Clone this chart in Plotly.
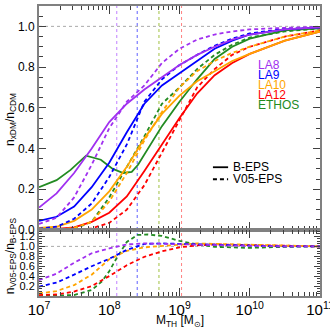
import numpy as np
import plotly.graph_objects as go
from plotly.subplots import make_subplots

# log10 of the threshold mass grid
LOGM = [7.0, 7.25, 7.5, 7.75, 8.0, 8.25, 8.5, 8.75, 9.0, 9.25, 9.5, 9.75, 10.0, 10.5, 11.0]
LOGM_RATIO = [7.0, 7.25, 7.5, 7.75, 8.0, 8.25, 8.5, 8.75, 9.0, 9.25, 9.5, 10.0, 10.5, 11.0]

MODELS = ["LA8", "LA9", "LA10", "LA12", "ETHOS"]
COLORS = {"LA8": "#a030f0", "LA9": "#0000ff", "LA10": "#ffa500", "LA12": "#ff0000", "ETHOS": "#228b22"}

# n_xDM / n_CDM, B-EPS (solid)
B_EPS = {
    "LA8":   [0.11, 0.18, 0.28, 0.40, 0.53, 0.62, 0.69, 0.75, 0.81, 0.86, 0.90, 0.935, 0.96, 0.985, 0.995],
    "LA9":   [0.045, 0.065, 0.115, 0.21, 0.33, 0.48, 0.62, 0.71, 0.77, 0.83, 0.89, 0.93, 0.96, 0.985, 0.995],
    "LA10":  [0.01, 0.016, 0.045, 0.10, 0.19, 0.31, 0.45, 0.57, 0.66, 0.73, 0.78, 0.83, 0.865, 0.93, 0.975],
    "LA12":  [0.002, 0.005, 0.013, 0.04, 0.085, 0.165, 0.29, 0.42, 0.55, 0.67, 0.76, 0.82, 0.865, 0.93, 0.975],
}
# ETHOS has a bump, sampled more finely
LOGM_ETHOS = [7.0, 7.25, 7.45, 7.67, 7.88, 8.05, 8.2, 8.32, 8.41, 8.5, 8.6, 8.75, 9.0, 9.25, 9.5, 9.75, 10.0, 10.5, 11.0]
ETHOS_B = [0.21, 0.245, 0.295, 0.365, 0.345, 0.30, 0.28, 0.285, 0.32, 0.37, 0.43, 0.51, 0.63, 0.74, 0.84, 0.90, 0.94, 0.98, 0.99]

# n_xDM / n_CDM, V05-EPS (dashed)
V05_EPS = {
    "LA8":   [0.03, 0.06, 0.16, 0.32, 0.50, 0.63, 0.71, 0.82, 0.89, 0.935, 0.96, 0.975, 0.985, 0.993, 0.997],
    "LA9":   [0.007, 0.016, 0.055, 0.13, 0.26, 0.42, 0.63, 0.74, 0.81, 0.86, 0.905, 0.94, 0.965, 0.988, 0.996],
    "LA10":  [0.0005, 0.002, 0.01, 0.04, 0.14, 0.28, 0.44, 0.58, 0.70, 0.78, 0.83, 0.87, 0.90, 0.95, 0.98],
    "LA12":  [0.0, 0.0002, 0.001, 0.008, 0.035, 0.10, 0.22, 0.38, 0.54, 0.70, 0.79, 0.86, 0.90, 0.95, 0.98],
    "ETHOS": [0.0, 0.001, 0.006, 0.04, 0.16, 0.31, 0.46, 0.62, 0.70, 0.79, 0.86, 0.91, 0.945, 0.975, 0.99],
}

# n_V05-EPS / n_B-EPS
RATIO = {
    "LA8":   [0.32, 0.45, 0.67, 0.86, 0.96, 1.04, 1.06, 1.05, 1.04, 1.03, 1.02, 1.01, 1.0, 1.0],
    "LA9":   [0.19, 0.27, 0.43, 0.60, 0.75, 0.93, 1.05, 1.06, 1.05, 1.04, 1.03, 1.01, 1.0, 1.0],
    "LA10":  [0.05, 0.10, 0.22, 0.43, 0.74, 0.91, 0.98, 1.01, 1.04, 1.06, 1.05, 1.03, 1.01, 1.0],
    "LA12":  [0.02, 0.03, 0.09, 0.20, 0.40, 0.62, 0.79, 0.90, 0.98, 1.02, 1.04, 1.03, 1.01, 1.0],
}
LOGM_RATIO_ETHOS = [7.0, 7.25, 7.5, 7.75, 7.9, 8.0, 8.1, 8.25, 8.4, 8.55, 8.75, 9.0, 9.25, 9.5, 10.0, 10.5, 11.0]
ETHOS_RATIO = [0.0, 0.005, 0.02, 0.12, 0.30, 0.50, 0.75, 1.09, 1.23, 1.24, 1.21, 1.11, 1.04, 0.99, 0.97, 0.99, 1.0]

# half-mode masses (dotted verticals)
M_HM = {"LA8": 1.28e8, "LA9": 2.5e8, "ETHOS": 5.1e8, "LA12": 1.07e9}
VLINE_COLORS = {"LA8": "#c080ff", "LA9": "#6060ff", "ETHOS": "#a0c040", "LA12": "#ff8080"}

FONT = "Liberation Sans, Arial, sans-serif"
DASH = "4px,3px"


def mass(logs):
    return 10 ** np.array(logs)


fig = make_subplots(rows=2, cols=1, shared_xaxes=True, vertical_spacing=0,
                    row_heights=[0.7724, 0.2276])

for m in ["ETHOS", "LA12", "LA10", "LA9", "LA8"]:
    c = COLORS[m]
    if m == "ETHOS":
        xb, yb, xr, yr = LOGM_ETHOS, ETHOS_B, LOGM_RATIO_ETHOS, ETHOS_RATIO
    else:
        xb, yb, xr, yr = LOGM, B_EPS[m], LOGM_RATIO, RATIO[m]
    fig.add_trace(go.Scatter(x=mass(xb), y=yb, mode="lines",
                             line=dict(color=c, width=1.8)), row=1, col=1)
    fig.add_trace(go.Scatter(x=mass(LOGM), y=V05_EPS[m], mode="lines",
                             line=dict(color=c, width=1.8, dash=DASH)), row=1, col=1)
    fig.add_trace(go.Scatter(x=mass(xr), y=yr, mode="lines",
                             line=dict(color=c, width=1.8, dash=DASH)), row=2, col=1)

# dotted reference lines
for m, v in M_HM.items():
    fig.add_shape(type="line", xref="x", yref="paper", x0=v, x1=v, y0=0, y1=1,
                  line=dict(color=VLINE_COLORS[m], width=1, dash="dot"), layer="below")
for xr, yr in (("x domain", "y"), ("x2 domain", "y2")):
    fig.add_shape(type="line", xref=xr, yref=yr, x0=0, x1=1, y0=1, y1=1,
                  line=dict(color="#aaaaaa", width=1, dash="dot"), layer="below")

# model labels
for i, m in enumerate(MODELS):
    fig.add_annotation(text=m, xref="paper", yref="paper", x=0.772, y=0.797 - i * 0.0345,
                       xanchor="left", yanchor="middle", showarrow=False,
                       font=dict(color=COLORS[m], size=12, family=FONT))

# line-style key
for i, (lab, dash) in enumerate((("B-EPS", "solid"), ("V05-EPS", DASH))):
    yk = 0.444 - i * 0.0414
    fig.add_shape(type="line", xref="paper", yref="paper", x0=0.619, x1=0.673, y0=yk, y1=yk,
                  line=dict(color="black", width=1.8, dash=dash))
    fig.add_annotation(text=lab, xref="paper", yref="paper", x=0.685, y=yk,
                       xanchor="left", yanchor="middle", showarrow=False,
                       font=dict(color="black", size=12, family=FONT))

# axis titles
fig.add_annotation(text="n<sub>xDM</sub>/n<sub>CDM</sub>", xref="paper", yref="paper",
                   x=-0.1, y=0.61, xanchor="center", yanchor="middle", textangle=-90,
                   showarrow=False, font=dict(size=12, family=FONT))
fig.add_annotation(text="n<sub>V05-EPS</sub>/n<sub>B-EPS</sub>", xref="paper", yref="paper",
                   x=-0.1, y=0.14, xanchor="center", yanchor="middle", textangle=-90,
                   showarrow=False, font=dict(size=12, family=FONT))
fig.add_annotation(text="M<sub>TH</sub> [M<sub>\u2299</sub>]", xref="paper", yref="paper",
                   x=0.5, y=-0.085, yanchor="middle", showarrow=False,
                   font=dict(size=12, family=FONT))

axis_common = dict(showline=True, linecolor="#808080", linewidth=2, mirror="ticks",
                   ticks="inside", tickcolor="#404040", showgrid=False, zeroline=False,
                   automargin=False, tickfont=dict(size=12, family=FONT, color="black"))

fig.update_xaxes(type="log", range=[7, 11], dtick=1, ticklen=8,
                 minor=dict(ticks="inside", ticklen=4, tickcolor="#404040", showgrid=False),
                 **axis_common)
fig.update_xaxes(showticklabels=False, row=1, col=1)
fig.update_xaxes(showticklabels=True, exponentformat="power", ticklabeloverflow="allow",
                 row=2, col=1)

fig.update_yaxes(range=[0, 1.1], tickvals=[0, 0.2, 0.4, 0.6, 0.8, 1.0], tickformat=".1f",
                 ticklen=7, minor=dict(ticks="inside", ticklen=4, dtick=0.05, tickcolor="#404040"),
                 row=1, col=1, **axis_common)
fig.update_yaxes(range=[0, 1.33], tickvals=[0.2, 0.4, 0.6, 0.8, 1.0, 1.2], tickformat=".1f",
                 ticklen=6, minor=dict(ticks="inside", ticklen=3, dtick=0.05, tickcolor="#404040"),
                 row=2, col=1, **axis_common)
fig.update_yaxes(tickfont=dict(size=11, family=FONT, color="black"), row=2, col=1)

fig.update_layout(width=330, height=330, showlegend=False,
                  margin=dict(l=39, r=10, t=6, b=34),
                  paper_bgcolor="white", plot_bgcolor="white",
                  font=dict(family=FONT, color="black"))

fig.write_html("out.html", config={"displayModeBar": False},
               post_script="document.body.style.margin='0';")
